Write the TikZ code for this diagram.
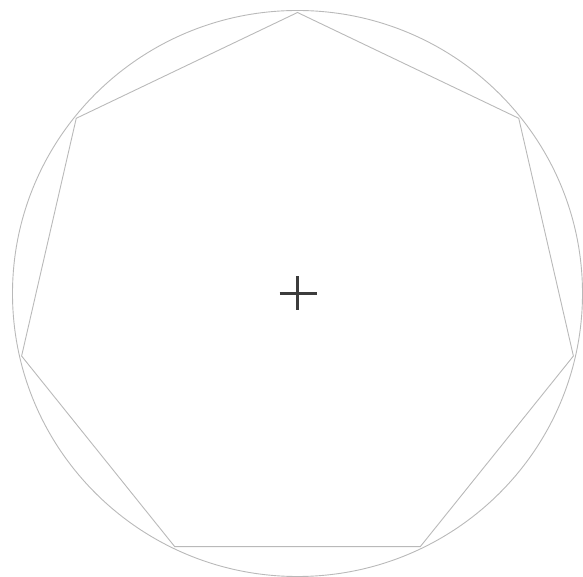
\documentclass[tikz,border=0pt]{standalone}
\usepackage{tikz}
\definecolor{rimgray}{RGB}{185,185,185}
\definecolor{crossgray}{RGB}{60,60,60}

\begin{document}
\begin{tikzpicture}[
      x=1pt, y=1pt,
      rim/.style={draw=rimgray, line width=0.9pt},
      mark line/.style={draw=crossgray, line width=2.2pt}
    ]
      \useasboundingbox (-297.5,-283.5) rectangle (285.5,293.5);
      \coordinate (c) at (0,0);
      \draw[rim] (c) circle[x radius=285pt, y radius=283pt];
      % heptagon corners
      \foreach \i in {0,...,6}
        \coordinate (v\i) at ({90-\i*360/7}:{283pt} and {281pt});
      \draw[rim] (v0) -- (v1) -- (v2) -- (v3) -- (v4) -- (v5) -- (v6) -- cycle;
      \draw[mark line] ([xshift=-18pt]c) -- ([xshift=19pt]c);
      \draw[mark line] ([yshift=17pt]c) -- ([yshift=-17pt]c);
    \end{tikzpicture}
\end{document}
